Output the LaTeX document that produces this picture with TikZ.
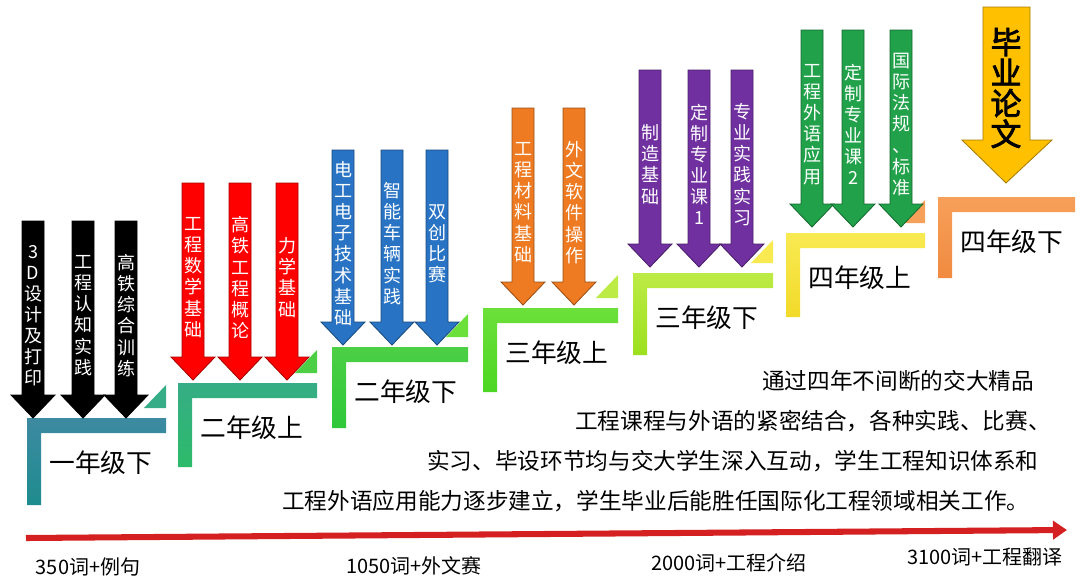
\documentclass[tikz,border=0pt]{standalone}
\usepackage{fontspec}
\setmainfont{Noto Sans CJK SC}
\newfontfamily\heavyfont{Noto Sans CJK SC}[FakeBold=2.5]
\usepackage{xcolor}
\usetikzlibrary{arrows.meta}

\definecolor{st1top}{HTML}{3D8AA1}\definecolor{st1bot}{HTML}{1E8C8E}
\definecolor{st2top}{HTML}{36AD86}\definecolor{st2bot}{HTML}{2DBB6A}
\definecolor{st3top}{HTML}{4CCF45}\definecolor{st3bot}{HTML}{2EC83A}
\definecolor{st4top}{HTML}{6BE03A}\definecolor{st4bot}{HTML}{4DD623}
\definecolor{st5top}{HTML}{BDEB45}\definecolor{st5bot}{HTML}{9BE01E}
\definecolor{st6top}{HTML}{F9EA52}\definecolor{st6bot}{HTML}{F2DA2A}
\definecolor{st7top}{HTML}{F7A05A}\definecolor{st7bot}{HTML}{F08A40}
\definecolor{arrred}{HTML}{FF0000}
\definecolor{arrblue}{HTML}{2873C3}
\definecolor{arrorange}{HTML}{EE7A22}
\definecolor{arrpurple}{HTML}{7030A0}
\definecolor{arrgreen}{HTML}{21A24A}
\definecolor{arrgold}{HTML}{FFC000}
\definecolor{lineRed}{HTML}{D42020}

\begin{document}
\begin{tikzpicture}[x=0.025cm, y=-0.025cm, >=Stealth,
  stepbar/.style={draw=none},
  steplabel/.style={anchor=west, inner sep=0, font=\fontsize{18.3}{20}\selectfont},
  blockarrow/.style={fill=#1, draw=#1!65!black, line width=0.6pt},
  arrowtext/.style={text=white, align=center, inner sep=0, font=\fontsize{12.8}{15}\selectfont},
  bodytext/.style={anchor=west, inner sep=0, font=\fontsize{16.1}{18}\selectfont},
  wordlabel/.style={inner sep=0, font=\fontsize{14.2}{16}\selectfont}]
  \useasboundingbox (0,0) rectangle (1080,586);

  % ── Seven steps: L-shaped bars with their grade labels ───────
  \foreach \i/\L/\T/\B/\R/\lbl in {1/27/418/505/166/一年级下, 2/178/383/467/317/二年级上,
      3/332/347/428/468/二年级下, 4/483/308/392/618/三年级上, 5/633/273/355/773/三年级下,
      6/786/233/317/925/四年级上, 7/938/197/278/1075/四年级下} {
    \draw[stepbar, top color=st\i top, bottom color=st\i bot]
      (\L,\T) -- (\R,\T) -- (\R,\T+15) -- (\L+14,\T+15) -- (\L+14,\B) -- (\L,\B) -- cycle;
    \node[steplabel] (grade-\i) at (\L+22,\T+45) {\lbl};
  }
  % small corner wedge at the end of each tread
  \foreach \i/\R/\T in {2/166/418, 3/317/383, 4/468/347, 5/618/308, 6/773/273, 7/925/233} {
    \fill[st\i top] (\R-22,\T-10) -- (\R,\T-10) -- (\R,\T-33) -- cycle;
  }

  % ── Course arrows (x / top / tip / colour / text) ────────────
  \foreach \x/\t/\b/\c/\lbl [count=\n] in {
      33/221/418/black/{3\\D\\设\\计\\及\\打\\印},
      83/221/418/black/{工\\程\\认\\知\\实\\践},
      126/221/418/black/{高\\铁\\综\\合\\训\\练},
      193/183/380/arrred/{工\\程\\数\\学\\基\\础},
      240/183/380/arrred/{高\\铁\\工\\程\\概\\论},
      287/183/380/arrred/{力\\学\\基\\础},
      343/150/345/arrblue/{电\\工\\电\\子\\技\\术\\基\\础},
      392/150/345/arrblue/{智\\能\\车\\辆\\实\\践},
      437/150/345/arrblue/{双\\创\\比\\赛},
      523/108/305/arrorange/{工\\程\\材\\料\\基\\础},
      574/108/305/arrorange/{外\\文\\软\\件\\操\\作},
      650/70/267/arrpurple/{制\\造\\基\\础},
      699/70/267/arrpurple/{定\\制\\专\\业\\课\\1},
      742/70/267/arrpurple/{专\\业\\实\\践\\实\\习},
      812/30/227/arrgreen/{工\\程\\外\\语\\应\\用},
      853/30/227/arrgreen/{定\\制\\专\\业\\课\\2},
      901/30/227/arrgreen/{国\\际\\法\\规\\、\\标\\准}} {
    \draw[blockarrow=\c] (\x-11,\t) -- (\x+11,\t) -- (\x+11,\b-23) -- (\x+22,\b-23)
      -- (\x,\b) -- (\x-22,\b-23) -- (\x-11,\b-23) -- cycle;
    \node[arrowtext] (course-\n) at (\x,{(\t+\b)/2-4}) {\lbl};
  }
  % thesis arrow
  \draw[blockarrow=arrgold] (983,7) -- (1030,7) -- (1030,140) -- (1052,140)
    -- (1006,183) -- (962,140) -- (983,140) -- cycle;
  \node[align=center, inner sep=0, font=\heavyfont\fontsize{22}{21.8}\selectfont] (thesis) at (1006,88) {毕\\业\\论\\文};

  % ── Summary text ─────────────────────────────────────────────
  \node[bodytext] (sum-1) at (762,381) {通过四年不间断的交大精品};
  \node[bodytext] (sum-2) at (575,421) {工程课程与外语的紧密结合，各种实践、比赛、};
  \node[bodytext] (sum-3) at (427,461) {实习、毕设环节均与交大学生深入互动，学生工程知识体系和};
  \node[bodytext] (sum-4) at (282,501) {工程外语应用能力逐步建立，学生毕业后能胜任国际化工程领域相关工作。};

  % ── Vocabulary timeline ──────────────────────────────────────
  \coordinate (tl-start) at (26,538);
  \coordinate (tl-end) at (1067,530);
  \draw[lineRed, line width=4.3pt, -{Triangle[length=10pt,width=13pt]}] (tl-start) -- (tl-end);
  \node[wordlabel] (words-1) at (88,567)  {350词+例句};
  \node[wordlabel] (words-2) at (414,566) {1050词+外文赛};
  \node[wordlabel] (words-3) at (729,563) {2000词+工程介绍};
  \node[wordlabel] (words-4) at (985,557) {3100词+工程翻译};
\end{tikzpicture}
\end{document}
